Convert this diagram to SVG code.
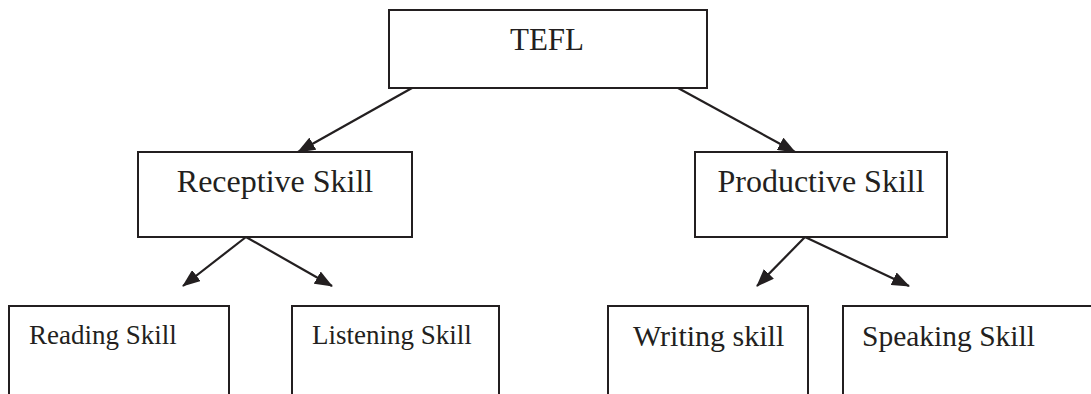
<svg xmlns="http://www.w3.org/2000/svg" width="1091" height="394" viewBox="0 0 1091 394">
<defs>
<marker id="ah" viewBox="0 0 18 14" refX="17" refY="7" markerWidth="18" markerHeight="14" markerUnits="userSpaceOnUse" orient="auto">
<path d="M0,0 L18,7 L0,14 Z" fill="#231f20"/>
</marker>
<style>
.box{fill:#fff;stroke:#231f20;stroke-width:2}
.t{font-family:"Liberation Serif","Times New Roman",serif;fill:#231f20}
.conn line{stroke:#231f20;stroke-width:2.2;marker-end:url(#ah)}
</style>
</defs>
<rect width="1091" height="394" fill="#fff"/>
<g id="tefl"><rect class="box" x="389" y="10" width="318" height="78"/><text class="t" x="547" y="50" font-size="31" text-anchor="middle">TEFL</text></g>
<g id="receptive"><rect class="box" x="138" y="152" width="274" height="85"/><text class="t" x="275" y="192" font-size="32" text-anchor="middle">Receptive Skill</text></g>
<g id="productive"><rect class="box" x="695" y="152" width="252" height="85"/><text class="t" x="821" y="192" font-size="32" text-anchor="middle">Productive Skill</text></g>
<g id="reading"><rect class="box" x="9" y="306" width="220" height="100"/><text class="t" x="29" y="344" font-size="27">Reading Skill</text></g>
<g id="listening"><rect class="box" x="292" y="306" width="207" height="100"/><text class="t" x="312" y="344" font-size="27">Listening Skill</text></g>
<g id="writing"><rect class="box" x="608" y="306" width="200" height="100"/><text class="t" x="633" y="346" font-size="30">Writing skill</text></g>
<g id="speaking"><rect class="box" x="843" y="306" width="260" height="100"/><text class="t" x="862" y="346" font-size="29.5">Speaking Skill</text></g>
<g class="conn" id="connectors">
<line x1="412" y1="88" x2="298" y2="152"/>
<line x1="678" y1="88" x2="795" y2="152"/>
<line x1="246" y1="237" x2="183" y2="286"/>
<line x1="246" y1="237" x2="332" y2="286"/>
<line x1="805" y1="237" x2="757" y2="286"/>
<line x1="805" y1="237" x2="909" y2="286"/>
</g>
</svg>
